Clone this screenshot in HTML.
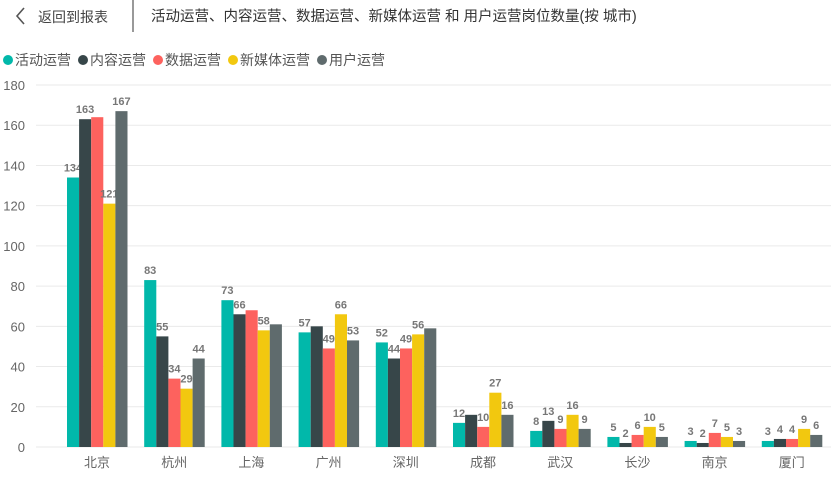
<!DOCTYPE html>
<html><head><meta charset="utf-8"><style>
body{margin:0;width:831px;height:476px;background:#fff;overflow:hidden;font-family:"Liberation Sans","Noto Sans CJK SC",sans-serif}
</style></head><body>
<svg id="s" width="831" height="476" xmlns="http://www.w3.org/2000/svg" font-family="Liberation Sans, Noto Sans CJK SC, sans-serif">
<polyline points="24,8 17,16 24,24" fill="none" stroke="#555" stroke-width="1.6"/>
<text x="38" y="22" font-size="14" fill="#444">返回到报表</text>
<rect x="132" y="0" width="2" height="32" fill="#999"/>
<text x="151" y="21" font-size="14.5" fill="#333">活动运营、内容运营、数据运营、新媒体运营 和 用户运营岗位数量(按 城市)</text>
</svg>
<script>
var s=document.getElementById('s'),h='';
var cols=['#01B8AA','#374649','#FD625E','#F2C80F','#5F6B6D'];
var names=['活动运营','内容运营','数据运营','新媒体运营','用户运营'];
var lx=[3,78,153,228,317];
for(var i=0;i<5;i++){h+='<circle cx="'+(lx[i]+5)+'" cy="60" r="5" fill="'+cols[i]+'"/><text x="'+(lx[i]+12)+'" y="65" font-size="14" fill="#555">'+names[i]+'</text>';}
var y0=447,k=(447-85)/180;
for(var v=0;v<=180;v+=20){var y=y0-v*k;h+='<line x1="36" x2="831" y1="'+y+'" y2="'+y+'" stroke="#eaeaea" stroke-width="1"/><text x="25" y="'+(y+5)+'" font-size="13" fill="#666" text-anchor="end">'+v+'</text>';}
var cities=['北京','杭州','上海','广州','深圳','成都','武汉','长沙','南京','厦门'];
var d=[[134,163,164,121,167],[83,55,34,29,44],[73,66,68,58,61],[57,60,49,66,53],[52,44,49,56,59],[12,16,10,27,16],[8,13,9,16,9],[5,2,6,10,5],[3,2,7,5,3],[3,4,4,9,6]];
var show=[[1,1,0,1,1],[1,1,1,1,1],[1,1,0,1,0],[1,0,1,1,1],[1,1,1,1,0],[1,0,1,1,1],[1,1,1,1,1],[1,1,1,1,1],[1,1,1,1,1],[1,1,1,1,1]];
for(var c=0;c<10;c++){var gx=67+c*77.2;
 for(var j=0;j<5;j++){var x=gx+j*12.1,v=d[c][j],bh=v*k;
  h+='<rect x="'+x+'" y="'+(y0-bh)+'" width="12.1" height="'+bh+'" fill="'+cols[j]+'"/>';
  if(show[c][j])h+='<text x="'+(x+6)+'" y="'+(y0-bh-6)+'" font-size="11" font-weight="bold" fill="#777" text-anchor="middle">'+v+'</text>';}
 h+='<text x="'+(gx+30)+'" y="467" font-size="13" fill="#666" text-anchor="middle">'+cities[c]+'</text>';}
s.insertAdjacentHTML('beforeend',h);
</script>
</body></html>
